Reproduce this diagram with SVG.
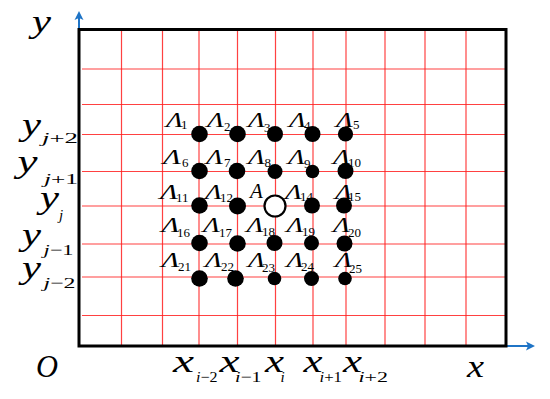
<svg xmlns="http://www.w3.org/2000/svg" width="550" height="399" viewBox="0 0 550 399" font-family="Liberation Serif, serif">
<style>
.g{stroke:#ff2020;stroke-width:1.2;stroke-opacity:0.85;fill:none}
.bd{stroke:#000;stroke-width:3;fill:none}
.ax{stroke:#1f74c6;stroke-width:2;fill:none}
.ah{fill:#1f74c6}
text{font-family:'Liberation Serif','Times New Roman',serif;fill:#000}
.it{font-style:italic}
.L{font-size:21px;font-style:italic}
.s{font-size:13px}
.big{font-size:31px;font-style:italic}
.sb{font-size:15px}
.dot{fill:#000}
</style>
<g id="grid">
<line class="g" x1="121.5" y1="30" x2="121.5" y2="346"/>
<line class="g" x1="162.5" y1="30" x2="162.5" y2="346"/>
<line class="g" x1="199" y1="30" x2="199" y2="346"/>
<line class="g" x1="237.5" y1="30" x2="237.5" y2="346"/>
<line class="g" x1="275.5" y1="30" x2="275.5" y2="346"/>
<line class="g" x1="313" y1="30" x2="313" y2="346"/>
<line class="g" x1="346" y1="30" x2="346" y2="346"/>
<line class="g" x1="385" y1="30" x2="385" y2="346"/>
<line class="g" x1="425" y1="30" x2="425" y2="346"/>
<line class="g" x1="466" y1="30" x2="466" y2="346"/>
<line class="g" x1="82" y1="69" x2="506" y2="69"/>
<line class="g" x1="82" y1="104.5" x2="506" y2="104.5"/>
<line class="g" x1="82" y1="134.5" x2="506" y2="134.5"/>
<line class="g" x1="82" y1="171.5" x2="506" y2="171.5"/>
<line class="g" x1="82" y1="206" x2="506" y2="206"/>
<line class="g" x1="82" y1="244" x2="506" y2="244"/>
<line class="g" x1="82" y1="277" x2="506" y2="277"/>
<line class="g" x1="82" y1="315.5" x2="506" y2="315.5"/>
</g>
<g id="connectors">
<line class="ax" x1="79" y1="30" x2="79" y2="18"/>
<polygon class="ah" points="79,11 74.5,20 79,18 83.5,20"/>
<line class="ax" x1="506" y1="346" x2="528" y2="346"/>
<polygon class="ah" points="535,346 526,341.5 528,346 526,350.5"/>
</g>
<g id="frame">
<rect class="bd" x="79" y="29.5" width="427" height="316.5"/>
</g>
<g id="axis-labels">
<text class="big" x="32" y="32" textLength="19" lengthAdjust="spacingAndGlyphs">y</text>
<text class="big" x="36" y="377" textLength="22" lengthAdjust="spacingAndGlyphs">O</text>
<text class="big" x="467" y="377" textLength="17" lengthAdjust="spacingAndGlyphs">x</text>
<g id="ylab1"><text class="big" x="22" y="135" textLength="19" lengthAdjust="spacingAndGlyphs">y</text><text class="sb" x="42" y="143" textLength="36" lengthAdjust="spacingAndGlyphs"><tspan class="it">j</tspan>+2</text></g>
<g id="ylab2"><text class="big" x="17.5" y="171.5" textLength="20" lengthAdjust="spacingAndGlyphs">y</text><text class="sb" x="44" y="184" textLength="34" lengthAdjust="spacingAndGlyphs"><tspan class="it">j</tspan>+1</text></g>
<g id="ylab3"><text class="big" x="40" y="208" textLength="19" lengthAdjust="spacingAndGlyphs">y</text><text class="sb it" x="59" y="220">j</text></g>
<g id="ylab4"><text class="big" x="22" y="245" textLength="19" lengthAdjust="spacingAndGlyphs">y</text><text class="sb" x="43.5" y="255" textLength="30" lengthAdjust="spacingAndGlyphs"><tspan class="it">j</tspan>−1</text></g>
<g id="ylab5"><text class="big" x="22" y="278" textLength="19" lengthAdjust="spacingAndGlyphs">y</text><text class="sb" x="43.5" y="288" textLength="32" lengthAdjust="spacingAndGlyphs"><tspan class="it">j</tspan>−2</text></g>
<g id="xlab1"><text class="big" x="173" y="372" textLength="21" lengthAdjust="spacingAndGlyphs">x</text><text class="sb" x="196" y="382" textLength="21.5" lengthAdjust="spacingAndGlyphs"><tspan class="it">i</tspan>−2</text></g>
<g id="xlab2"><text class="big" x="219.5" y="372" textLength="20" lengthAdjust="spacingAndGlyphs">x</text><text class="sb" x="235" y="382" textLength="26.5" lengthAdjust="spacingAndGlyphs"><tspan class="it">i</tspan>−1</text></g>
<g id="xlab3"><text class="big" x="265" y="372" textLength="19" lengthAdjust="spacingAndGlyphs">x</text><text class="sb it" x="280.5" y="382">i</text></g>
<g id="xlab4"><text class="big" x="303.5" y="372" textLength="19" lengthAdjust="spacingAndGlyphs">x</text><text class="sb" x="319.5" y="382" textLength="22.5" lengthAdjust="spacingAndGlyphs"><tspan class="it">i</tspan>+1</text></g>
<g id="xlab5"><text class="big" x="343" y="372" textLength="19" lengthAdjust="spacingAndGlyphs">x</text><text class="sb" x="358.5" y="382" textLength="29.5" lengthAdjust="spacingAndGlyphs"><tspan class="it">i</tspan>+2</text></g>
</g>
<g id="node-labels">
<g id="lab1"><text class="L" x="166" y="127" textLength="17" lengthAdjust="spacingAndGlyphs">Λ</text><text class="s" x="181" y="129">1</text></g>
<g id="lab2"><text class="L" x="207" y="127" textLength="17" lengthAdjust="spacingAndGlyphs">Λ</text><text class="s" x="224" y="131">2</text></g>
<g id="lab3"><text class="L" x="248" y="127" textLength="17" lengthAdjust="spacingAndGlyphs">Λ</text><text class="s" x="264" y="132">3</text></g>
<g id="lab4"><text class="L" x="289" y="127" textLength="17" lengthAdjust="spacingAndGlyphs">Λ</text><text class="s" x="304" y="130">4</text></g>
<g id="lab5"><text class="L" x="336" y="127" textLength="17" lengthAdjust="spacingAndGlyphs">Λ</text><text class="s" x="353" y="129">5</text></g>
<g id="lab6"><text class="L" x="163" y="163.5" textLength="18" lengthAdjust="spacingAndGlyphs">Λ</text><text class="s" x="182" y="167">6</text></g>
<g id="lab7"><text class="L" x="206" y="163.5" textLength="17" lengthAdjust="spacingAndGlyphs">Λ</text><text class="s" x="224" y="167">7</text></g>
<g id="lab8"><text class="L" x="248" y="163.5" textLength="17" lengthAdjust="spacingAndGlyphs">Λ</text><text class="s" x="264.5" y="167">8</text></g>
<g id="lab9"><text class="L" x="288" y="163.5" textLength="17" lengthAdjust="spacingAndGlyphs">Λ</text><text class="s" x="304" y="168">9</text></g>
<g id="lab10"><text class="L" x="333" y="163.5" textLength="17" lengthAdjust="spacingAndGlyphs">Λ</text><text class="s" x="348" y="167">10</text></g>
<g id="lab11"><text class="L" x="160" y="198.5" textLength="18" lengthAdjust="spacingAndGlyphs">Λ</text><text class="s" x="176" y="202">11</text></g>
<g id="lab12"><text class="L" x="205" y="198.5" textLength="17" lengthAdjust="spacingAndGlyphs">Λ</text><text class="s" x="220" y="202">12</text></g>
<g id="lab13"><text class="L" x="250" y="198">A</text></g>
<g id="lab14"><text class="L" x="285" y="198.5" textLength="17" lengthAdjust="spacingAndGlyphs">Λ</text><text class="s" x="300" y="201">14</text></g>
<g id="lab15"><text class="L" x="335" y="198.5" textLength="17" lengthAdjust="spacingAndGlyphs">Λ</text><text class="s" x="348" y="201">15</text></g>
<g id="lab16"><text class="L" x="161.5" y="232" textLength="18" lengthAdjust="spacingAndGlyphs">Λ</text><text class="s" x="177" y="237">16</text></g>
<g id="lab17"><text class="L" x="203" y="232" textLength="17" lengthAdjust="spacingAndGlyphs">Λ</text><text class="s" x="219" y="237">17</text></g>
<g id="lab18"><text class="L" x="246.5" y="232" textLength="17" lengthAdjust="spacingAndGlyphs">Λ</text><text class="s" x="262" y="236">18</text></g>
<g id="lab19"><text class="L" x="286.5" y="232" textLength="17" lengthAdjust="spacingAndGlyphs">Λ</text><text class="s" x="302" y="236">19</text></g>
<g id="lab20"><text class="L" x="333" y="232" textLength="17" lengthAdjust="spacingAndGlyphs">Λ</text><text class="s" x="348" y="237">20</text></g>
<g id="lab21"><text class="L" x="161.5" y="267" textLength="18" lengthAdjust="spacingAndGlyphs">Λ</text><text class="s" x="178" y="271">21</text></g>
<g id="lab22"><text class="L" x="205" y="267" textLength="17" lengthAdjust="spacingAndGlyphs">Λ</text><text class="s" x="221" y="271">22</text></g>
<g id="lab23"><text class="L" x="248" y="267" textLength="17" lengthAdjust="spacingAndGlyphs">Λ</text><text class="s" x="262" y="272">23</text></g>
<g id="lab24"><text class="L" x="286.5" y="267" textLength="17" lengthAdjust="spacingAndGlyphs">Λ</text><text class="s" x="301" y="271">24</text></g>
<g id="lab25"><text class="L" x="335" y="267" textLength="17" lengthAdjust="spacingAndGlyphs">Λ</text><text class="s" x="349" y="273">25</text></g>
</g>
<g id="nodes">
<circle id="n1" class="dot" cx="199.5" cy="134" r="8.3"/>
<circle id="n2" class="dot" cx="237.5" cy="134" r="8.3"/>
<circle id="n3" class="dot" cx="275" cy="134" r="8"/>
<circle id="n4" class="dot" cx="312.5" cy="134" r="8"/>
<circle id="n5" class="dot" cx="345.5" cy="134" r="7.6"/>
<circle id="n6" class="dot" cx="199.5" cy="171" r="8.3"/>
<circle id="n7" class="dot" cx="237" cy="171" r="8.3"/>
<circle id="n8" class="dot" cx="275" cy="171.5" r="7.5"/>
<circle id="n9" class="dot" cx="312.5" cy="171.5" r="6.8"/>
<circle id="n10" class="dot" cx="345.5" cy="171" r="8"/>
<circle id="n11" class="dot" cx="199.5" cy="205.5" r="8.3"/>
<circle id="n12" class="dot" cx="237.5" cy="206" r="8.5"/>
<circle id="n13" cx="275" cy="206" r="10.5" fill="#fff" stroke="#000" stroke-width="2.2"/>
<circle id="n14" class="dot" cx="312" cy="205.5" r="8"/>
<circle id="n15" class="dot" cx="344" cy="205.5" r="8"/>
<circle id="n16" class="dot" cx="199.5" cy="243" r="8.3"/>
<circle id="n17" class="dot" cx="237.5" cy="243.5" r="8.3"/>
<circle id="n18" class="dot" cx="274.5" cy="243" r="8"/>
<circle id="n19" class="dot" cx="311.5" cy="243" r="7.5"/>
<circle id="n20" class="dot" cx="344.5" cy="243.5" r="8"/>
<circle id="n21" class="dot" cx="199.5" cy="278.5" r="8.3"/>
<circle id="n22" class="dot" cx="235.5" cy="278.5" r="8.3"/>
<circle id="n23" class="dot" cx="274.5" cy="278.5" r="6.8"/>
<circle id="n24" class="dot" cx="311.5" cy="278.5" r="7.5"/>
<circle id="n25" class="dot" cx="345" cy="278.5" r="6.8"/>
</g>
</svg>
